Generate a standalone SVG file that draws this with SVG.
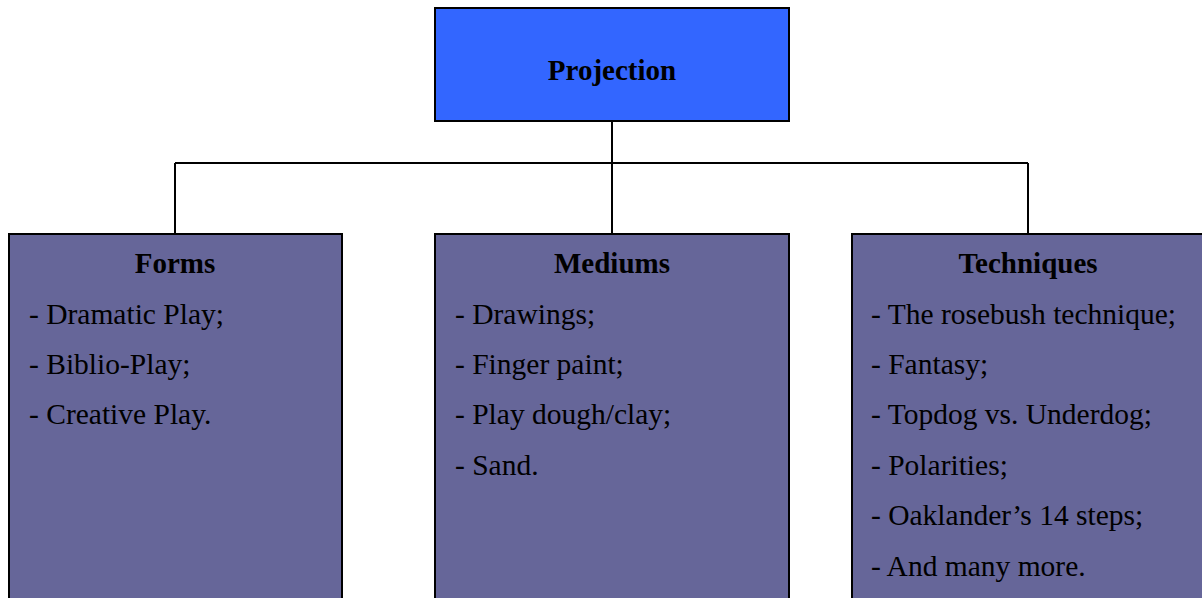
<svg xmlns="http://www.w3.org/2000/svg" width="1202" height="598" viewBox="0 0 1202 598">
  <style>
    .box { stroke: #000; stroke-width: 2; }
    .root { fill: #3366FF; }
    .child { fill: #666699; }
    .title { font-family: "Liberation Serif", "Times New Roman", serif; font-weight: bold; font-size: 29px; text-anchor: middle; fill: #000; }
    .item { font-family: "Liberation Serif", "Times New Roman", serif; font-size: 29.5px; fill: #000; }
    .link { fill: none; stroke: #000; stroke-width: 2; }
  </style>
  <rect width="1202" height="598" fill="#fff"/>

  <g id="connectors">
    <path class="link" d="M612 121 V163 M175 163 H1028 M175 163 V234 M612 163 V234 M1028 163 V234"/>
  </g>

  <g id="projection">
    <rect class="box root" x="435" y="8" width="354" height="113"/>
    <text class="title" x="612" y="80">Projection</text>
  </g>

  <g id="forms">
    <rect class="box child" x="9" y="234" width="333" height="380"/>
    <text class="title" x="175" y="273">Forms</text>
    <text class="item" x="29" y="324">- Dramatic Play;</text>
    <text class="item" x="29" y="374">- Biblio-Play;</text>
    <text class="item" x="29" y="424">- Creative Play.</text>
  </g>

  <g id="mediums">
    <rect class="box child" x="435" y="234" width="354" height="380"/>
    <text class="title" x="612" y="273">Mediums</text>
    <text class="item" x="455" y="324">- Drawings;</text>
    <text class="item" x="455" y="374">- Finger paint;</text>
    <text class="item" x="455" y="424">- Play dough/clay;</text>
    <text class="item" x="455" y="475">- Sand.</text>
  </g>

  <g id="techniques">
    <rect class="box child" x="852" y="234" width="360" height="380"/>
    <text class="title" x="1028" y="273">Techniques</text>
    <text class="item" x="871" y="324">- The rosebush technique;</text>
    <text class="item" x="871" y="374">- Fantasy;</text>
    <text class="item" x="871" y="424">- Topdog vs. Underdog;</text>
    <text class="item" x="871" y="475">- Polarities;</text>
    <text class="item" x="871" y="525">- Oaklander’s 14 steps;</text>
    <text class="item" x="871" y="576">- And many more.</text>
  </g>
</svg>
